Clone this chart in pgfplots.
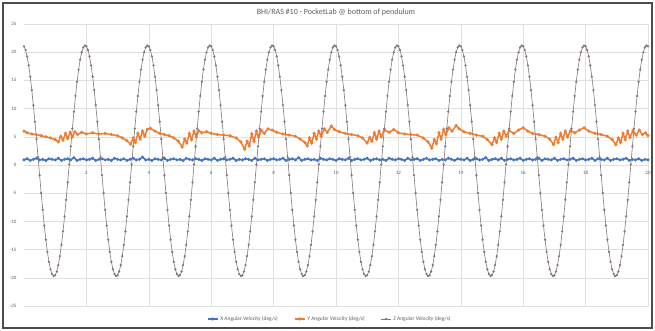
\documentclass[border=0pt]{standalone}
\usepackage{pgfplots}
\pgfplotsset{compat=1.18}
\usepackage{fontspec}
\setmainfont{Carlito}
\definecolor{xblue}{RGB}{68,114,196}
\definecolor{yorange}{RGB}{237,125,49}
\definecolor{zgray}{RGB}{132,118,118}
\definecolor{gridc}{RGB}{224,224,224}
\definecolor{txt}{RGB}{95,95,95}
\begin{document}
\begin{tikzpicture}[x=1pt,y=1pt]
\path[use as bounding box] (0,0) rectangle (655,331);
\fill[white] (0,0) rectangle (655,331);
\draw[line width=2.5pt, black!70] (3,3) rectangle (652,328);
\begin{axis}[
  at={(24pt,25pt)}, anchor=south west,
  scale only axis, width=624pt, height=282pt,
  xmin=0, xmax=20, ymin=-25, ymax=25,
  xtick={0,2,...,20}, ytick={-25,-20,...,25},
  axis x line=middle, axis y line=left,
  x axis line style={draw=gridc,-},
  y axis line style={draw=none},
  major tick length=0pt,
  grid=major, major grid style={gridc, line width=0.5pt},
  tick label style={font=\fontsize{5}{6}\selectfont, text=txt},
  xticklabel style={yshift=-3pt},
  yticklabel style={xshift=-4pt},
  /pgf/number format/assume math mode=true,
  title={BHI/RAS \#10 - PocketLab @ bottom of pendulum},
  every axis title shift=0pt,
  title style={at={(0.5,1)}, anchor=center, yshift=12pt, font=\fontsize{8}{9}\selectfont, text=txt},
  legend style={at={(0.49,-0.046)}, anchor=center, legend columns=3, draw=none, fill=none,
    font=\fontsize{5.5}{6}\selectfont, text=txt,
    /tikz/every even column/.append style={column sep=14pt}},
  legend image code/.code={\draw[mark repeat=2,mark phase=2,#1] plot coordinates {(0pt,0pt) (5pt,0pt) (10pt,0pt)};},
  clip=true,
]
% X angular velocity
\addplot[xblue, line width=1.4pt, mark=*, mark size=0.7pt] coordinates {
(0,0.9)(0.1,1.1)(0.2,0.8)(0.3,1.0)(0.4,1.2)(0.5,0.9)(0.6,1.0)(0.7,0.8)(0.8,1.1)(0.9,1.0)(1,0.9)(1.1,1.2)(1.2,0.8)(1.3,1.0)(1.4,1.1)(1.5,0.9)(1.6,1.3)(1.7,0.8)(1.8,1.0)(1.9,1.1)
(2,0.9)(2.1,1.0)(2.2,1.2)(2.3,0.8)(2.4,1.0)(2.5,1.1)(2.6,0.9)(2.7,1.0)(2.8,0.8)(2.9,1.2)(3,1.0)(3.1,0.9)(3.2,1.1)(3.3,0.8)(3.4,1.0)(3.5,1.2)(3.6,0.9)(3.7,1.0)(3.8,1.4)(3.9,0.9)
(4,1.0)(4.1,0.8)(4.2,1.1)(4.3,1.0)(4.4,0.9)(4.5,1.2)(4.6,0.8)(4.7,1.0)(4.8,1.1)(4.9,0.9)(5,1.0)(5.1,0.8)(5.2,1.2)(5.3,1.0)(5.4,0.9)(5.5,1.1)(5.6,1.0)(5.7,0.8)(5.8,1.1)(5.9,1.0)
(6,0.9)(6.1,1.2)(6.2,0.8)(6.3,1.0)(6.4,1.1)(6.5,0.9)(6.6,1.0)(6.7,1.2)(6.8,0.8)(6.9,1.0)(7,0.9)(7.1,1.1)(7.2,1.0)(7.3,0.8)(7.4,1.2)(7.5,0.9)(7.6,1.0)(7.7,1.1)(7.8,0.8)(7.9,1.0)
(8,1.1)(8.1,0.9)(8.2,1.0)(8.3,1.2)(8.4,0.8)(8.5,1.0)(8.6,1.1)(8.7,0.9)(8.8,1.3)(8.9,0.8)(9,1.0)(9.1,1.1)(9.2,0.9)(9.3,1.0)(9.4,0.8)(9.5,1.2)(9.6,1.0)(9.7,0.9)(9.8,1.1)(9.9,1.0)
(10,0.8)(10.1,1.1)(10.2,1.0)(10.3,0.9)(10.4,1.2)(10.5,0.8)(10.6,1.0)(10.7,1.1)(10.8,0.9)(10.9,1.0)(11,1.2)(11.1,0.8)(11.2,1.0)(11.3,1.1)(11.4,0.9)(11.5,1.0)(11.6,0.8)(11.7,1.2)(11.8,1.0)(11.9,0.9)
(12,1.1)(12.1,1.0)(12.2,0.8)(12.3,1.2)(12.4,0.9)(12.5,1.0)(12.6,1.1)(12.7,0.8)(12.8,1.0)(12.9,1.2)(13,0.9)(13.1,1.0)(13.2,1.1)(13.3,0.8)(13.4,1.0)(13.5,0.9)(13.6,1.2)(13.7,1.0)(13.8,0.8)(13.9,1.1)
(14,1.0)(14.1,0.9)(14.2,1.2)(14.3,0.8)(14.4,1.0)(14.5,1.1)(14.6,0.9)(14.7,1.0)(14.8,1.3)(14.9,0.8)(15,1.0)(15.1,1.1)(15.2,0.9)(15.3,1.2)(15.4,0.8)(15.5,1.0)(15.6,1.1)(15.7,0.9)(15.8,1.0)(15.9,1.2)
(16,0.8)(16.1,1.0)(16.2,1.1)(16.3,0.9)(16.4,1.0)(16.5,1.2)(16.6,0.8)(16.7,1.1)(16.8,1.0)(16.9,0.9)(17,1.2)(17.1,0.8)(17.2,1.0)(17.3,1.1)(17.4,0.9)(17.5,1.0)(17.6,1.2)(17.7,0.8)(17.8,1.0)(17.9,1.1)
(18,0.9)(18.1,1.0)(18.2,1.2)(18.3,0.8)(18.4,1.1)(18.5,1.0)(18.6,0.9)(18.7,1.2)(18.8,0.8)(18.9,1.0)(19,1.1)(19.1,0.9)(19.2,1.0)(19.3,1.2)(19.4,0.8)(19.5,1.0)(19.6,0.9)(19.7,1.1)(19.8,0.8)(19.9,1.0)
(20,0.9)
};
\addlegendentry{X Angular Velocity (deg/s)}
% Y angular velocity
\addplot[yorange, line width=1.5pt, mark=*, mark size=0.7pt] coordinates {
(0,6.0)(0.1,5.7)(0.25,5.5)(0.4,5.4)(0.55,5.2)(0.7,5.0)(0.85,4.8)(1,4.5)(1.1,4.1)(1.18,5.1)(1.25,4.4)(1.33,5.6)(1.4,4.7)(1.48,5.8)(1.55,5.0)(1.63,5.9)(1.72,5.4)(1.85,5.8)(2,5.5)
(2.2,5.7)(2.4,5.5)(2.6,5.6)(2.8,5.4)(3,5.2)(3.15,4.8)(3.3,4.3)(3.42,3.7)(3.5,4.8)(3.57,4.0)(3.65,5.6)(3.72,4.6)(3.8,6.0)(3.87,5.1)(3.95,6.3)(4.05,6.5)(4.2,6.0)
(4.35,5.6)(4.5,5.4)(4.65,5.2)(4.8,4.8)(4.95,4.2)(5.07,3.2)(5.15,4.6)(5.22,3.9)(5.3,5.6)(5.37,4.5)(5.45,6.0)(5.52,5.0)(5.6,6.1)(5.7,5.7)(5.85,5.9)(6,5.6)
(6.2,5.4)(6.4,5.3)(6.6,5.2)(6.8,4.8)(6.95,4.1)(7.07,2.8)(7.15,4.2)(7.22,3.4)(7.3,5.5)(7.37,4.2)(7.45,6.0)(7.52,4.9)(7.6,6.2)(7.7,5.6)(7.82,6.4)(7.95,6.2)(8.1,5.8)
(8.3,5.5)(8.5,5.3)(8.7,5.1)(8.85,4.6)(9,4.0)(9.08,3.4)(9.15,4.8)(9.22,3.9)(9.3,5.6)(9.37,4.6)(9.45,6.0)(9.52,5.1)(9.62,6.4)(9.72,5.8)(9.85,6.9)(9.95,6.3)(10.1,5.9)
(10.3,5.6)(10.5,5.4)(10.7,5.2)(10.85,4.8)(11,3.9)(11.08,4.9)(11.15,4.2)(11.23,5.7)(11.3,4.6)(11.38,6.0)(11.45,5.0)(11.55,6.2)(11.7,5.8)(11.85,6.3)(12,5.7)
(12.2,5.5)(12.4,5.4)(12.6,5.3)(12.8,4.8)(12.95,4.1)(13.07,3.0)(13.15,4.5)(13.22,3.8)(13.3,5.7)(13.37,4.6)(13.45,6.3)(13.52,5.4)(13.62,6.6)(13.72,6.0)(13.85,7.0)(13.95,6.4)(14.1,5.9)
(14.3,5.6)(14.5,5.3)(14.7,5.1)(14.85,4.5)(15,3.6)(15.08,4.8)(15.15,4.0)(15.23,5.6)(15.3,4.6)(15.38,6.0)(15.45,5.1)(15.55,6.1)(15.7,5.6)(15.85,6.2)(16,6.6)(16.15,6.0)
(16.3,5.6)(16.5,5.4)(16.7,5.1)(16.85,4.6)(16.97,3.6)(17.05,4.9)(17.12,4.0)(17.2,5.6)(17.27,4.6)(17.35,6.0)(17.42,5.0)(17.52,6.1)(17.65,5.7)(17.8,6.2)(17.95,6.6)(18.1,6.0)
(18.3,5.6)(18.5,5.4)(18.7,5.1)(18.85,4.5)(18.97,3.6)(19.05,4.8)(19.12,4.0)(19.2,5.6)(19.27,4.5)(19.35,6.0)(19.42,4.9)(19.52,6.1)(19.62,5.3)(19.72,6.2)(19.82,5.4)(19.92,5.7)(20,5.2)
};
\addlegendentry{Y Angular Velocity (deg/s)}
% Z angular velocity
\addplot[zgray, line width=0.6pt, mark=*, mark size=0.8pt] coordinates {
(0,21.04)(0.05,20.39)(0.1,19.25)(0.15,17.66)(0.2,15.66)(0.25,13.28)(0.3,10.60)(0.35,7.68)(0.4,4.58)(0.45,1.39)(0.5,-1.81)(0.55,-4.96)(0.6,-7.96)(0.65,-10.74)(0.7,-13.25)(0.75,-15.41)(0.8,-17.17)(0.85,-18.49)(0.9,-19.34)(0.95,-19.69)(1,-19.54)(1.05,-18.89)(1.1,-17.75)(1.15,-16.16)(1.2,-14.16)(1.25,-11.78)(1.3,-9.10)(1.35,-6.18)(1.4,-3.08)(1.45,0.11)(1.5,3.31)(1.55,6.46)(1.6,9.46)(1.65,12.24)(1.7,14.75)(1.75,16.91)(1.8,18.67)(1.85,19.99)(1.9,20.84)(1.95,21.19)
(2,21.04)(2.05,20.39)(2.1,19.25)(2.15,17.66)(2.2,15.66)(2.25,13.28)(2.3,10.60)(2.35,7.68)(2.4,4.58)(2.45,1.39)(2.5,-1.81)(2.55,-4.96)(2.6,-7.96)(2.65,-10.74)(2.7,-13.25)(2.75,-15.41)(2.8,-17.17)(2.85,-18.49)(2.9,-19.34)(2.95,-19.69)(3,-19.54)(3.05,-18.89)(3.1,-17.75)(3.15,-16.16)(3.2,-14.16)(3.25,-11.78)(3.3,-9.10)(3.35,-6.18)(3.4,-3.08)(3.45,0.11)(3.5,3.31)(3.55,6.46)(3.6,9.46)(3.65,12.24)(3.7,14.75)(3.75,16.91)(3.8,18.67)(3.85,19.99)(3.9,20.84)(3.95,21.19)
(4,21.04)(4.05,20.39)(4.1,19.25)(4.15,17.66)(4.2,15.66)(4.25,13.28)(4.3,10.60)(4.35,7.68)(4.4,4.58)(4.45,1.39)(4.5,-1.81)(4.55,-4.96)(4.6,-7.96)(4.65,-10.74)(4.7,-13.25)(4.75,-15.41)(4.8,-17.17)(4.85,-18.49)(4.9,-19.34)(4.95,-19.69)(5,-19.54)(5.05,-18.89)(5.1,-17.75)(5.15,-16.16)(5.2,-14.16)(5.25,-11.78)(5.3,-9.10)(5.35,-6.18)(5.4,-3.08)(5.45,0.11)(5.5,3.31)(5.55,6.46)(5.6,9.46)(5.65,12.24)(5.7,14.75)(5.75,16.91)(5.8,18.67)(5.85,19.99)(5.9,20.84)(5.95,21.19)
(6,21.04)(6.05,20.39)(6.1,19.25)(6.15,17.66)(6.2,15.66)(6.25,13.28)(6.3,10.60)(6.35,7.68)(6.4,4.58)(6.45,1.39)(6.5,-1.81)(6.55,-4.96)(6.6,-7.96)(6.65,-10.74)(6.7,-13.25)(6.75,-15.41)(6.8,-17.17)(6.85,-18.49)(6.9,-19.34)(6.95,-19.69)(7,-19.54)(7.05,-18.89)(7.1,-17.75)(7.15,-16.16)(7.2,-14.16)(7.25,-11.78)(7.3,-9.10)(7.35,-6.18)(7.4,-3.08)(7.45,0.11)(7.5,3.31)(7.55,6.46)(7.6,9.46)(7.65,12.24)(7.7,14.75)(7.75,16.91)(7.8,18.67)(7.85,19.99)(7.9,20.84)(7.95,21.19)
(8,21.04)(8.05,20.39)(8.1,19.25)(8.15,17.66)(8.2,15.66)(8.25,13.28)(8.3,10.60)(8.35,7.68)(8.4,4.58)(8.45,1.39)(8.5,-1.81)(8.55,-4.96)(8.6,-7.96)(8.65,-10.74)(8.7,-13.25)(8.75,-15.41)(8.8,-17.17)(8.85,-18.49)(8.9,-19.34)(8.95,-19.69)(9,-19.54)(9.05,-18.89)(9.1,-17.75)(9.15,-16.16)(9.2,-14.16)(9.25,-11.78)(9.3,-9.10)(9.35,-6.18)(9.4,-3.08)(9.45,0.11)(9.5,3.31)(9.55,6.46)(9.6,9.46)(9.65,12.24)(9.7,14.75)(9.75,16.91)(9.8,18.67)(9.85,19.99)(9.9,20.84)(9.95,21.19)
(10,21.04)(10.05,20.39)(10.1,19.25)(10.15,17.66)(10.2,15.66)(10.25,13.28)(10.3,10.60)(10.35,7.68)(10.4,4.58)(10.45,1.39)(10.5,-1.81)(10.55,-4.96)(10.6,-7.96)(10.65,-10.74)(10.7,-13.25)(10.75,-15.41)(10.8,-17.17)(10.85,-18.49)(10.9,-19.34)(10.95,-19.69)(11,-19.54)(11.05,-18.89)(11.1,-17.75)(11.15,-16.16)(11.2,-14.16)(11.25,-11.78)(11.3,-9.10)(11.35,-6.18)(11.4,-3.08)(11.45,0.11)(11.5,3.31)(11.55,6.46)(11.6,9.46)(11.65,12.24)(11.7,14.75)(11.75,16.91)(11.8,18.67)(11.85,19.99)(11.9,20.84)(11.95,21.19)
(12,21.04)(12.05,20.39)(12.1,19.25)(12.15,17.66)(12.2,15.66)(12.25,13.28)(12.3,10.60)(12.35,7.68)(12.4,4.58)(12.45,1.39)(12.5,-1.81)(12.55,-4.96)(12.6,-7.96)(12.65,-10.74)(12.7,-13.25)(12.75,-15.41)(12.8,-17.17)(12.85,-18.49)(12.9,-19.34)(12.95,-19.69)(13,-19.54)(13.05,-18.89)(13.1,-17.75)(13.15,-16.16)(13.2,-14.16)(13.25,-11.78)(13.3,-9.10)(13.35,-6.18)(13.4,-3.08)(13.45,0.11)(13.5,3.31)(13.55,6.46)(13.6,9.46)(13.65,12.24)(13.7,14.75)(13.75,16.91)(13.8,18.67)(13.85,19.99)(13.9,20.84)(13.95,21.19)
(14,21.04)(14.05,20.39)(14.1,19.25)(14.15,17.66)(14.2,15.66)(14.25,13.28)(14.3,10.60)(14.35,7.68)(14.4,4.58)(14.45,1.39)(14.5,-1.81)(14.55,-4.96)(14.6,-7.96)(14.65,-10.74)(14.7,-13.25)(14.75,-15.41)(14.8,-17.17)(14.85,-18.49)(14.9,-19.34)(14.95,-19.69)(15,-19.54)(15.05,-18.89)(15.1,-17.75)(15.15,-16.16)(15.2,-14.16)(15.25,-11.78)(15.3,-9.10)(15.35,-6.18)(15.4,-3.08)(15.45,0.11)(15.5,3.31)(15.55,6.46)(15.6,9.46)(15.65,12.24)(15.7,14.75)(15.75,16.91)(15.8,18.67)(15.85,19.99)(15.9,20.84)(15.95,21.19)
(16,21.04)(16.05,20.39)(16.1,19.25)(16.15,17.66)(16.2,15.66)(16.25,13.28)(16.3,10.60)(16.35,7.68)(16.4,4.58)(16.45,1.39)(16.5,-1.81)(16.55,-4.96)(16.6,-7.96)(16.65,-10.74)(16.7,-13.25)(16.75,-15.41)(16.8,-17.17)(16.85,-18.49)(16.9,-19.34)(16.95,-19.69)(17,-19.54)(17.05,-18.89)(17.1,-17.75)(17.15,-16.16)(17.2,-14.16)(17.25,-11.78)(17.3,-9.10)(17.35,-6.18)(17.4,-3.08)(17.45,0.11)(17.5,3.31)(17.55,6.46)(17.6,9.46)(17.65,12.24)(17.7,14.75)(17.75,16.91)(17.8,18.67)(17.85,19.99)(17.9,20.84)(17.95,21.19)
(18,21.04)(18.05,20.39)(18.1,19.25)(18.15,17.66)(18.2,15.66)(18.25,13.28)(18.3,10.60)(18.35,7.68)(18.4,4.58)(18.45,1.39)(18.5,-1.81)(18.55,-4.96)(18.6,-7.96)(18.65,-10.74)(18.7,-13.25)(18.75,-15.41)(18.8,-17.17)(18.85,-18.49)(18.9,-19.34)(18.95,-19.69)(19,-19.54)(19.05,-18.89)(19.1,-17.75)(19.15,-16.16)(19.2,-14.16)(19.25,-11.78)(19.3,-9.10)(19.35,-6.18)(19.4,-3.08)(19.45,0.11)(19.5,3.31)(19.55,6.46)(19.6,9.46)(19.65,12.24)(19.7,14.75)(19.75,16.91)(19.8,18.67)(19.85,19.99)(19.9,20.84)(19.95,21.19)
(20,21.04)
};
\addlegendentry{Z Angular Velocity (deg/s)}
\end{axis}
\end{tikzpicture}
\end{document}
